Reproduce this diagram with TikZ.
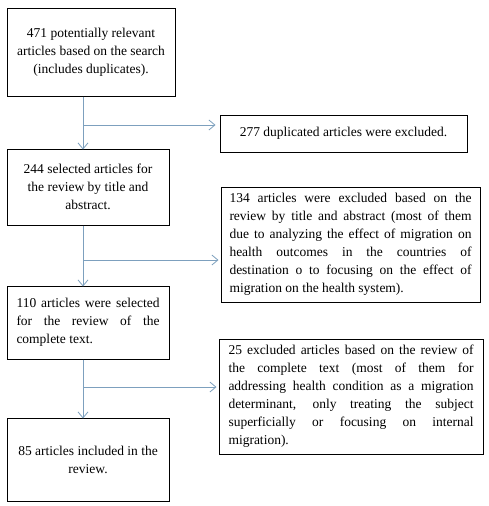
\documentclass[tikz,border=0pt]{standalone}
\usepackage{fontspec}
\setmainfont{Liberation Serif}
\usetikzlibrary{arrows.meta}
\definecolor{lineblue}{RGB}{125,160,190}
\newcommand{\bfnt}{\fontsize{13.5}{18}\selectfont}
\tikzset{
  box/.style={draw=black, line width=1pt, inner sep=0pt, font=\bfnt},
  cbox/.style={box, align=center},
  arr/.style={draw=lineblue, line width=0.8pt, -{Straight Barb[length=6pt,width=10pt,line width=0.8pt]}}
}
\begin{document}
\begin{tikzpicture}[x=1pt,y=-1pt]
\useasboundingbox (0,0) rectangle (488,506);
\fill[white] (0,0) rectangle (488,506);

\node[cbox, minimum width=168pt, minimum height=88pt] (b1) at (91,52)
  {471 potentially relevant\\articles based on the search\\(includes duplicates).};
\node[cbox, minimum width=162pt, minimum height=76pt] (b2) at (88,187)
  {\raisebox{-3pt}{\parbox{160pt}{\centering\bfnt 244 selected articles for\\the review by title and\\abstract.}}};
\node[box, minimum width=162pt, minimum height=73pt] (b3) at (88,322.5)
  {\parbox{143pt}{\bfnt 110 articles were selected\linebreak for the review of the\linebreak complete text.}};
\node[cbox, minimum width=162pt, minimum height=83pt] (b4) at (88,459.5)
  {85 articles included in the\\review.};

\node[cbox, minimum width=247pt, minimum height=37pt] (e1) at (343.5,133.5)
  {277 duplicated articles were excluded.};
\node[box, minimum width=259pt, minimum height=115pt] (e2) at (350.5,244.5)
  {\parbox{242pt}{\bfnt 134 articles were excluded based on the\linebreak review by title and abstract (most of them\linebreak due to analyzing the effect of migration on\linebreak health outcomes in the countries of\linebreak destination o to focusing on the effect of\linebreak migration on the health system).}};
\node[box, minimum width=264pt, minimum height=115pt] (e3) at (351,396.5)
  {\parbox{245pt}{\bfnt 25 excluded articles based on the review of\linebreak the complete text (most of them for\linebreak addressing health condition as a migration\linebreak determinant, only treating the subject\linebreak superficially or focusing on internal\linebreak migration).}};

\coordinate (v) at (83,0);
\coordinate (h1) at (83,125);
\coordinate (h2) at (83,260);
\coordinate (h3) at (83,387);

\draw[arr] (b1.south -| v) -- ([yshift=-1pt]b2.north -| v);
\draw[arr] (h1) -- ([xshift=-4pt]e1.west |- h1);
\draw[arr] (b2.south -| v) -- ([yshift=-1pt]b3.north -| v);
\draw[arr] (h2) -- ([xshift=-2pt]e2.west |- h2);
\draw[arr] (b3.south -| v) -- ([yshift=-1pt]b4.north -| v);
\draw[arr] (h3) -- ([xshift=-2pt]e3.west |- h3);
\end{tikzpicture}
\end{document}
